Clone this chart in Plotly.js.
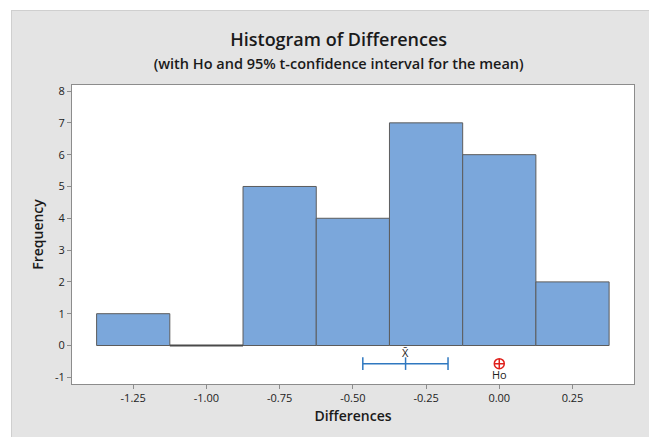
<!DOCTYPE html>
<html>
<head>
<meta charset="utf-8">
<script src="https://cdn.plot.ly/plotly-3.0.1.min.js"></script>
<style>
html,body{margin:0;padding:0;background:#ffffff;}
#chart{position:absolute;left:11px;top:10px;width:638px;height:427px;box-sizing:border-box;border-left:1px solid #cfcfcf;border-top:1px solid #cfcfcf;}
</style>
</head>
<body>
<div id="chart"></div>
<script>
const binCenters = [-1.25, -1.00, -0.75, -0.50, -0.25, 0.00, 0.25];
const counts = [1, 0, 5, 4, 7, 6, 2];
const binWidth = 0.25;
const meanDiff = -0.32;
const ciLower = -0.466;
const ciUpper = -0.175;
const ciLevel = -0.57;
const hoValue = 0.00;
const xTicks = [-1.25, -1.00, -0.75, -0.50, -0.25, 0.00, 0.25];
const xTickLabels = ['-1.25', '-1.00', '-0.75', '-0.50', '-0.25', '0.00', '0.25'];
const yTicks = [-1, 0, 1, 2, 3, 4, 5, 6, 7, 8];
const yTickLabels = ['-1', '0', '1', '2', '3', '4', '5', '6', '7', '8'];

const font = '"Open Sans", "Noto Sans", sans-serif';

// zero-count bins drawn as outline at baseline
const zx = [], zy = [];
binCenters.forEach((c, i) => {
  if (counts[i] === 0) { zx.push(c - binWidth/2, c + binWidth/2, null); zy.push(0, 0, null); }
});

const traces = [
  {
    type: 'bar', x: binCenters, y: counts, width: binWidth,
    marker: {color: '#7BA7DB', line: {color: '#5c5c5c', width: 1}},
    hoverinfo: 'skip'
  },
  {
    type: 'scatter', mode: 'lines', x: zx, y: zy,
    line: {color: '#4a4a4a', width: 2}, hoverinfo: 'skip'
  },
  {
    type: 'scatter', mode: 'lines', x: [ciLower, ciUpper], y: [ciLevel, ciLevel],
    line: {color: '#2F78C0', width: 1.5}, hoverinfo: 'skip'
  },
  {
    type: 'scatter', mode: 'markers', x: [ciLower, meanDiff, ciUpper], y: [ciLevel, ciLevel, ciLevel],
    marker: {symbol: 'line-ns', size: 9, line: {color: '#2F78C0', width: 1.5}},
    hoverinfo: 'skip'
  },
  {
    type: 'scatter', mode: 'markers+text', x: [hoValue], y: [ciLevel],
    marker: {symbol: 'circle-cross-open', size: 10, color: '#E0201B', line: {color: '#E0201B', width: 1.5}},
    text: ['Ho'], textposition: 'bottom center',
    textfont: {family: font, size: 11, color: '#222'},
    hoverinfo: 'skip'
  }
];

const layout = {
  width: 638, height: 427,
  paper_bgcolor: '#E4E4E4', plot_bgcolor: '#ffffff',
  margin: {l: 60, r: 16, t: 74, b: 54},
  showlegend: false,
  bargap: 0,
  font: {family: font, color: '#222'},
  title: {
    text: 'Histogram of Differences<br><span style="font-size:14.5px">(with Ho and 95% t-confidence interval for the mean)</span>',
    font: {family: font, size: 18, color: '#1a1a1a', weight: 600},
    x: 0.512, xanchor: 'center', y: 0.918, yanchor: 'top'
  },
  xaxis: {
    range: [-1.459, 0.460],
    tickvals: xTicks, ticktext: xTickLabels,
    ticks: 'outside', ticklen: 4, tickcolor: '#8c8c8c',
    showline: true, linecolor: '#8c8c8c', mirror: true, linewidth: 1,
    showgrid: false, zeroline: false,
    tickfont: {family: font, size: 11, color: '#222'},
    title: {text: 'Differences', font: {family: font, size: 14, color: '#1a1a1a', weight: 600}, standoff: 6}
  },
  yaxis: {
    range: [-1.21, 8.19],
    tickvals: yTicks, ticktext: yTickLabels,
    ticks: 'outside', ticklen: 4, tickcolor: '#8c8c8c',
    showline: true, linecolor: '#8c8c8c', mirror: true, linewidth: 1,
    showgrid: false, zeroline: false,
    tickfont: {family: font, size: 11, color: '#222'},
    title: {text: 'Frequency', font: {family: font, size: 14, color: '#1a1a1a', weight: 600}, standoff: 8}
  },
  annotations: [
    {x: meanDiff, y: ciLevel, xref: 'x', yref: 'y', text: 'X\u0304', showarrow: false,
     yanchor: 'bottom', yshift: 2, font: {family: font, size: 11, color: '#222'}}
  ]
};

Plotly.newPlot('chart', traces, layout, {displayModeBar: false, staticPlot: true});
</script>
</body>
</html>
